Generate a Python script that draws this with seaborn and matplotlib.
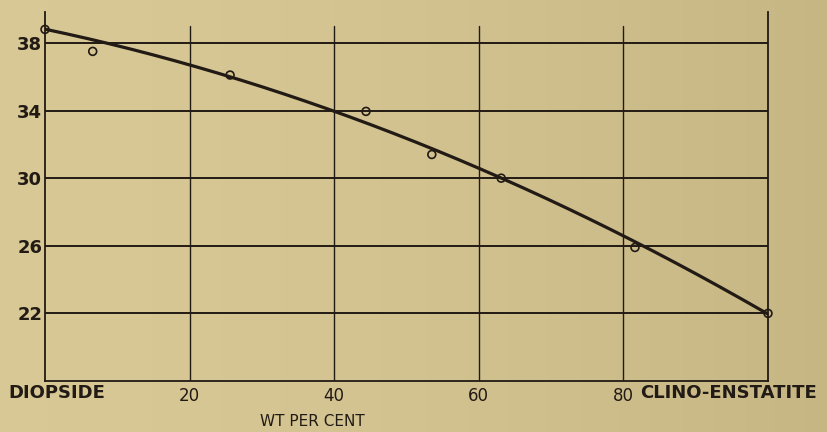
import numpy as np
import pandas as pd
import matplotlib
matplotlib.use("Agg")
import matplotlib.pyplot as plt
import seaborn as sns

# Measured values along the diopside - clino-enstatite join
wt_percent = [0, 6.6, 25.6, 44.4, 53.5, 63.1, 81.6, 100]
measured = [38.8, 37.5, 36.1, 33.95, 31.4, 30.0, 25.9, 22.0]

# Smooth curve read at the grid columns
curve_x = [0, 20, 40, 60, 80, 100]
curve_y = [38.8, 36.7, 34.0, 30.6, 26.5, 22.0]

y_ticks = [22, 26, 30, 34, 38]
x_ticks = [20, 40, 60, 80]
x_tick_labels = ["20", "40", "60", "80"]
left_label = "DIOPSIDE"
right_label = "CLINO-ENSTATITE"
x_title = "WT PER CENT"

paper = "#d3c38f"
ink = "#221a14"

sns.set_theme(style="white", rc={"axes.facecolor": "none", "figure.facecolor": paper})
plt.rcParams["font.family"] = ["DejaVu Sans"]

fig = plt.figure(figsize=(8.27, 4.32), dpi=100)

# aged paper tone, slightly darker towards the right edge
bg = fig.add_axes([0, 0, 1, 1], zorder=-10)
bg.axis("off")
left_rgb = np.array([0.845, 0.785, 0.585])
right_rgb = np.array([0.775, 0.715, 0.515])
t = np.linspace(0, 1, 256) ** 1.6
grad = left_rgb[None, :] * (1 - t[:, None]) + right_rgb[None, :] * t[:, None]
bg.imshow(grad[None, :, :], aspect="auto", extent=[0, 1, 0, 1])

ax = fig.add_axes([45 / 827, 51 / 432, 723 / 827, 369 / 432])
ax.set_facecolor("none")
ax.set_xlim(0, 100)
ax.set_ylim(18, 39.83)

# grid
for yv in y_ticks:
    ax.axhline(yv, color=ink, lw=1.4, zorder=1)
grid_top = (39.0 - 18) / (39.83 - 18)
for xv in x_ticks:
    ax.axvline(xv, ymin=0, ymax=grid_top, color=ink, lw=1.0, zorder=1)

# fitted curve
coef = np.polyfit(curve_x, curve_y, 2)
xs = np.linspace(0, 100, 300)
fit = pd.DataFrame({"x": xs, "y": np.polyval(coef, xs)})
sns.lineplot(data=fit, x="x", y="y", ax=ax, color=ink, lw=2.3, zorder=3)

pts = pd.DataFrame({"x": wt_percent, "y": measured})
sns.scatterplot(data=pts, x="x", y="y", ax=ax, s=32, facecolor="none",
                edgecolor=ink, linewidth=1.2, zorder=4, clip_on=False)

ax.spines["top"].set_visible(False)
for side in ["left", "right", "bottom"]:
    ax.spines[side].set_visible(True)
    ax.spines[side].set_color(ink)
    ax.spines[side].set_linewidth(1.3)

ax.set_yticks(y_ticks)
ax.set_yticklabels([str(v) for v in y_ticks], fontsize=13, fontweight="bold", color=ink)
ax.set_xticks(x_ticks)
ax.set_xticklabels(x_tick_labels, fontsize=12, color=ink)
ax.tick_params(axis="both", length=0)
ax.tick_params(axis="y", pad=2)
ax.tick_params(axis="x", pad=4)
ax.set_xlabel("")
ax.set_ylabel("")

fig.text(8 / 827, 1 - 393 / 432, left_label, ha="left", va="center",
         fontsize=13, fontweight="bold", color=ink)
fig.text(640 / 827, 1 - 393 / 432, right_label, ha="left", va="center",
         fontsize=13, fontweight="bold", color=ink)
fig.text(312 / 827, 1 - 422 / 432, x_title, ha="center", va="center",
         fontsize=11, color=ink)

fig.savefig("out.png", dpi=100, facecolor=paper)
